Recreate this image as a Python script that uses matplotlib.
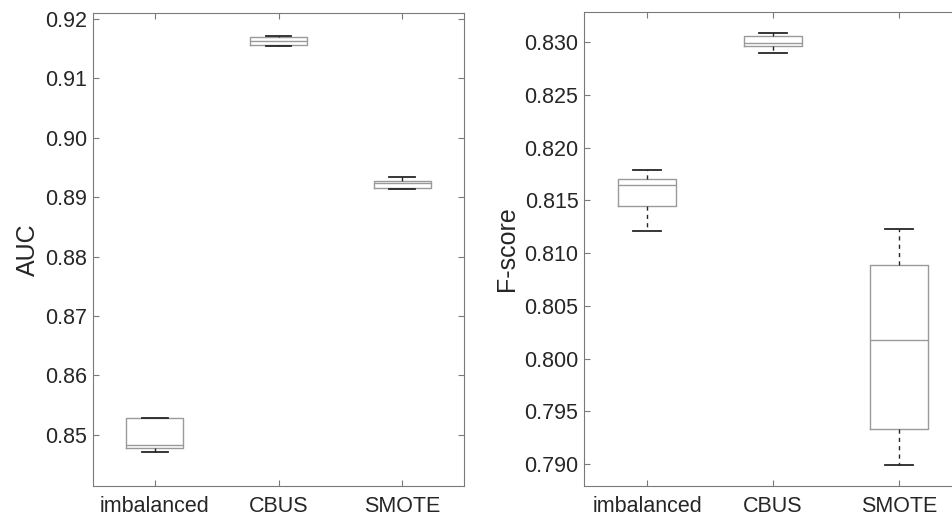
import numpy as np
import matplotlib.pyplot as plt
from matplotlib.ticker import FormatStrFormatter

plt.rcParams['font.family'] = ['Liberation Sans', 'DejaVu Sans']

groups = ['imbalanced', 'CBUS', 'SMOTE']

# AUC box statistics
auc_lo = [0.8471, 0.91550, 0.8914]
auc_q1 = [0.8478, 0.91560, 0.8915]
auc_med = [0.8483, 0.91630, 0.8924]
auc_q3 = [0.8528, 0.91690, 0.8928]
auc_hi = [0.8529, 0.91710, 0.8934]

# F-score box statistics
f_lo = [0.81209, 0.82893, 0.78996]
f_q1 = [0.81446, 0.82962, 0.79333]
f_med = [0.81642, 0.82994, 0.80173]
f_q3 = [0.81706, 0.83060, 0.80886]
f_hi = [0.81784, 0.83085, 0.81225]

fig = plt.figure(figsize=(9.52, 5.22), dpi=100)
ax1 = fig.add_axes([93/952, 36/522, 371/952, 473/522])
ax2 = fig.add_axes([584/952, 36/522, 378/952, 474.3/522])

edge = '#9a9a9a'
dark = '#262626'


def draw(ax, lo, q1, med, q3, hi, capw):
    stats = []
    for i in range(len(groups)):
        stats.append(dict(whislo=lo[i], q1=q1[i], med=med[i], q3=q3[i],
                          whishi=hi[i], fliers=[], label=groups[i]))
    ax.bxp(stats, positions=[1, 2, 3], widths=0.46, capwidths=capw,
           showfliers=False,
           boxprops=dict(color=edge, linewidth=1.0),
           medianprops=dict(color=edge, linewidth=1.0),
           whiskerprops=dict(color=dark, linewidth=1.0, linestyle=(0, (3, 3))),
           capprops=dict(color=dark, linewidth=1.3))
    ax.set_xlim(0.5, 3.5)
    ax.set_xticks([1, 2, 3])
    ax.set_xticklabels(groups)
    for s in ax.spines.values():
        s.set_color('#7a7a7a')
        s.set_linewidth(0.8)
    ax.tick_params(direction='in', length=4, top=True, right=True,
                   color='#7a7a7a', labelcolor=dark, labelsize=15.5)
    ax.tick_params(axis='x', pad=7)
    ax.tick_params(axis='y', pad=4)


draw(ax1, auc_lo, auc_q1, auc_med, auc_q3, auc_hi, 0.21)
ax1.set_ylim(0.8414, 0.9210)
ax1.set_yticks(np.arange(0.85, 0.9201, 0.01))
ax1.yaxis.set_major_formatter(FormatStrFormatter('%.2f'))
ax1.set_ylabel('AUC', fontsize=18, color=dark, labelpad=4)

draw(ax2, f_lo, f_q1, f_med, f_q3, f_hi, 0.23)
ax2.set_ylim(0.78794, 0.83287)
ax2.set_yticks(np.arange(0.790, 0.83001, 0.005))
ax2.yaxis.set_major_formatter(FormatStrFormatter('%.3f'))
ax2.set_ylabel('F-score', fontsize=18, color=dark, labelpad=4)

fig.savefig('out.png', dpi=100)
